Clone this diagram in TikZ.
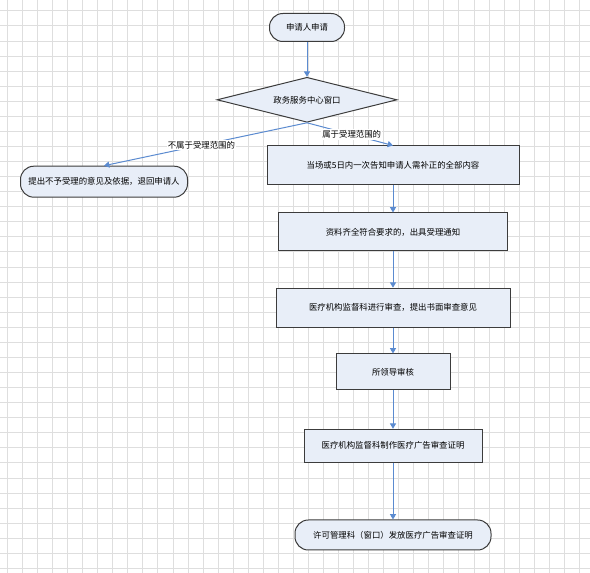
\documentclass[tikz,border=0pt]{standalone}
\usepackage{fontspec}
\usepackage{tikz}
\usetikzlibrary{arrows.meta,shapes.geometric}
\newfontfamily\cjk{Noto Sans CJK SC}
\definecolor{gridgray}{HTML}{DEDEDE}
\definecolor{boxfill}{HTML}{E8EEF8}
\definecolor{boxline}{HTML}{3C3C3C}
\definecolor{flowblue}{HTML}{5B8BD0}
\tikzset{
  gridline/.style={draw=gridgray,line width=0.5pt},
  stepbox/.style={draw=boxline,fill=boxfill,line width=0.75pt,
                  align=center,inner sep=2pt,font=\cjk\fontsize{6.3}{8}\selectfont},
  terminal/.style={stepbox,rounded corners=10pt},
  decision/.style={stepbox,diamond,aspect=4,inner sep=0pt},
  flowarr/.style={-{Triangle[length=4pt,width=4.5pt]},line width=0.75pt,
                  draw=flowblue},
  branchlabel/.style={fill=white,inner sep=1pt,
                      font=\cjk\fontsize{6.3}{8}\selectfont}
}
\begin{document}
\begin{tikzpicture}[x=0.75pt,y=-0.75pt]
    \path[use as bounding box,fill=white] (0,0) rectangle (590,573);

    % background grid
    \foreach \gx in {0,...,38}
      \draw[gridline] ({7.3+15.05*\gx},0) -- ({7.3+15.05*\gx},573);
    \foreach \gy in {0,...,37}
      \draw[gridline] (0,{10.7+15.07*\gy}) -- (590,{10.7+15.07*\gy});

    \node[terminal,minimum width=56.25pt,minimum height=21pt] (apply) at (307,27.5)
      {申请人申请};
    \node[decision,minimum width=135pt,minimum height=33.75pt] (window) at (307,99.8)
      {政务服务中心窗口};
    \node[terminal,minimum width=125.25pt,minimum height=23.25pt] (reject) at (104,181.7)
      {提出不予受理的意见及依据，退回申请人};
    \node[stepbox,minimum width=189pt,minimum height=29.25pt] (inform) at (393,165.5)
      {当场或5日内一次告知申请人需补正的全部内容};
    \node[stepbox,minimum width=171.75pt,minimum height=28.5pt] (accept) at (393,232)
      {资料齐全符合要求的，出具受理通知};
    \node[stepbox,minimum width=175.5pt,minimum height=29.25pt] (review) at (393,307.7)
      {医疗机构监督科进行审查，提出书面审查意见};
    \node[stepbox,minimum width=85.5pt,minimum height=27pt] (leader) at (393,372)
      {所领导审核};
    \node[stepbox,minimum width=133.5pt,minimum height=24.75pt] (certify) at (393,445.8)
      {医疗机构监督科制作医疗广告审查证明};
    \node[terminal,minimum width=147pt,minimum height=22.5pt] (issue) at (393,535)
      {许可管理科（窗口）发放医疗广告审查证明};

    \draw[flowarr] (apply) -- (window);
    \draw[flowarr] (window.south) -- node[branchlabel,pos=0.52] {不属于受理范围的} (reject.north);
    \draw[flowarr] (window.south) -- node[branchlabel,pos=0.52] {属于受理范围的} (inform.north);
    \draw[flowarr] (inform) -- (accept);
    \draw[flowarr] (accept) -- (review);
    \draw[flowarr] (review) -- (leader);
    \draw[flowarr] (leader) -- (certify);
    \draw[flowarr] (certify) -- (issue);
  \end{tikzpicture}
\end{document}
